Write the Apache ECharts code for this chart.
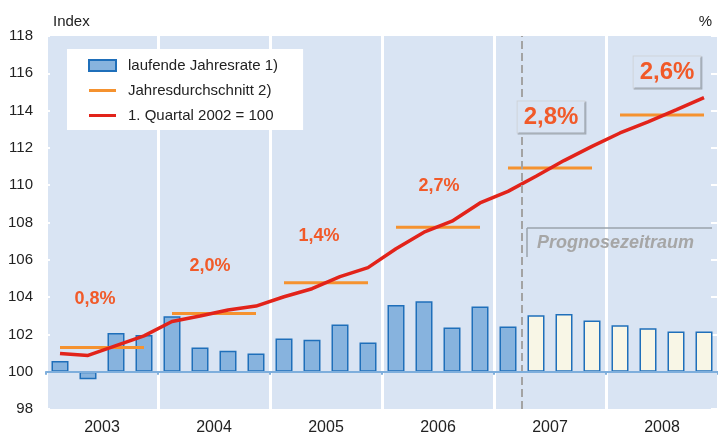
<!DOCTYPE html>
<html>
<head>
<meta charset="utf-8">
<script src="https://cdn.jsdelivr.net/npm/echarts@6/dist/echarts.min.js"></script>
<style>
  html, body { margin: 0; padding: 0; background: #fff; }
  #chart { width: 718px; height: 436px; }
</style>
</head>
<body>
<div id="chart"></div>
<script>
// Jahre und Quartale
const years = ['2003', '2004', '2005', '2006', '2007', '2008']
const quarters = years.flatMap(y => ['Q1', 'Q2', 'Q3', 'Q4'].map(q => y + ' ' + q))

// laufende Jahresrate in % (Balken, rechte Achse)
const rateValues = [
  0.58, -0.40, 2.08, 1.97,
  2.97, 1.30, 1.12, 0.98,
  1.78, 1.71, 2.53, 1.57,
  3.58, 3.78, 2.37, 3.49,
  2.42, 3.03, 3.10, 2.74,
  2.49, 2.33, 2.15, 2.15
]

// Index, 1. Quartal 2002 = 100
const indexValues = [
  100.98, 100.87, 101.40, 101.92,
  102.69, 102.99, 103.31, 103.52,
  104.02, 104.45, 105.10, 105.58,
  106.59, 107.48, 108.07, 109.05,
  109.67, 110.48, 111.32, 112.08,
  112.80, 113.40, 114.04, 114.70
]

// Jahresdurchschnitt (Index) und Veraenderung in %
const annualAvg = [101.30, 103.12, 104.77, 107.75, 110.92, 113.77]
const annualPct = ['0,8%', '2,0%', '1,4%', '2,7%', '2,8%', '2,6%']

// erstes Prognosequartal (2007 Q2)
const forecastStart = 17

const yTicks = { min: 98, max: 118, interval: 2 }

// Lage der Prozent-Beschriftungen relativ zur Jahreslinie (px)
const pctLabelShift = [[-7, -48], [-4, -47], [-7, -47], [1, -41], [1, -51], [5, -43]]

const FONT = '"Liberation Sans", Arial, sans-serif'
const PLOT_BG = '#d9e4f3'
const PCT_COLOR = '#f15a29'
// Legenden-Symbol: duenner Strich, mittig in 27x11
const LINE_ICON = 'path://M0,0 L0.01,0 L0.01,0.01 Z M0,4 L27,4 L27,7 L0,7 Z M0,11 L0.01,11 L0.01,10.99 Z'

const chart = echarts.init(document.getElementById('chart'))

// orange Jahreslinien: je Jahr eine Serie
const avgSeries = years.map((y, i) => ({
  name: 'Jahresdurchschnitt 2)',
  type: 'line',
  xAxisIndex: 0,
  yAxisIndex: 0,
  symbol: 'none',
  silent: true,
  z: 3,
  lineStyle: { color: '#f5922f', width: 3 },
  itemStyle: { color: '#f5922f' },
  data: quarters.map((q, k) => (Math.floor(k / 4) === i ? annualAvg[i] : '-'))
}))

const option = {
  animation: false,
  textStyle: { fontFamily: FONT },
  grid: {
    left: 46, top: 36, bottom: 25, right: -4,
    show: true, backgroundColor: PLOT_BG, borderWidth: 0
  },
  legend: {
    orient: 'vertical',
    left: 67,
    top: 49,
    backgroundColor: '#fff',
    padding: [9, 25, 7, 21],
    itemWidth: 27,
    itemHeight: 11,
    itemGap: 10,
    textStyle: { fontSize: 15, color: '#222', fontFamily: FONT, padding: [0, 0, 0, 7] },
    data: [
      { name: 'laufende Jahresrate 1)', icon: 'rect' },
      { name: 'Jahresdurchschnitt 2)', icon: LINE_ICON },
      { name: '1. Quartal 2002 = 100', icon: LINE_ICON }
    ]
  },
  xAxis: [
    {
      // Quartale, Nulllinie der Balken
      type: 'category',
      data: quarters,
      boundaryGap: true,
      axisLine: { show: true, onZero: true, onZeroAxisIndex: 1, lineStyle: { color: '#7eaedc', width: 2 } },
      axisTick: { show: true, interval: (i) => i % 4 === 0, length: 3, lineStyle: { color: '#7eaedc', width: 2 } },
      axisLabel: { show: false },
      splitLine: { show: false },
      z: 5
    },
    {
      // Jahre unten
      type: 'category',
      data: years,
      position: 'bottom',
      boundaryGap: true,
      axisLine: { show: false, onZero: false },
      axisTick: { show: false },
      axisLabel: { fontSize: 16, color: '#222', margin: 11, fontFamily: FONT },
      splitLine: { show: true, lineStyle: { color: '#fff', width: 3 } }
    },
    {
      // Hilfsachse in Quartalsgrenzen
      type: 'value',
      min: 0,
      max: quarters.length,
      show: false
    }
  ],
  yAxis: [
    {
      type: 'value',
      min: yTicks.min, max: yTicks.max, interval: yTicks.interval,
      name: 'Index',
      nameLocation: 'end',
      nameGap: 14,
      nameTextStyle: { align: 'left', verticalAlign: 'middle', color: '#222', fontSize: 15, padding: [0, 0, 0, 7], fontFamily: FONT },
      axisLine: { show: false },
      axisTick: { show: true, inside: true, length: 4, lineStyle: { color: '#fff', width: 2 } },
      axisLabel: { fontSize: 15, color: '#222', margin: 13, fontFamily: FONT },
      splitLine: { show: false }
    },
    {
      type: 'value',
      position: 'right',
      min: yTicks.min - 100, max: yTicks.max - 100, interval: yTicks.interval,
      name: '%',
      nameLocation: 'end',
      nameGap: 14,
      nameTextStyle: { align: 'right', verticalAlign: 'middle', color: '#222', fontSize: 15, padding: [0, 6, 0, 0], fontFamily: FONT },
      axisLine: { show: false },
      axisTick: { show: true, inside: true, length: 7, lineStyle: { color: '#fff', width: 2 } },
      axisLabel: { show: false },
      splitLine: { show: false }
    }
  ],
  series: [
    {
      name: 'laufende Jahresrate 1)',
      type: 'bar',
      xAxisIndex: 0,
      yAxisIndex: 1,
      barWidth: 17,
      z: 2,
      itemStyle: { color: '#87b3de', borderColor: '#1f6fba', borderWidth: 1.5 },
      data: rateValues.map((v, k) => (k >= forecastStart
        ? { value: v, itemStyle: { color: '#f8f6e6', borderColor: '#1f6fba' } }
        : v))
    },
    ...avgSeries,
    {
      name: '1. Quartal 2002 = 100',
      type: 'line',
      xAxisIndex: 0,
      yAxisIndex: 0,
      symbol: 'none',
      z: 4,
      lineStyle: { color: '#e2231a', width: 3.5 },
      itemStyle: { color: '#e2231a' },
      data: indexValues
    },
    {
      // Prozentangaben je Jahr + Prognosegrenze
      name: 'pct',
      type: 'scatter',
      xAxisIndex: 2,
      yAxisIndex: 0,
      symbolSize: 1,
      silent: true,
      z: 6,
      itemStyle: { color: 'rgba(0,0,0,0)', opacity: 1 },
      label: {
        show: true,
        position: 'inside',
        formatter: (p) => annualPct[p.dataIndex],
        color: PCT_COLOR,
        fontSize: 18,
        fontWeight: 'bold',
        fontFamily: FONT
      },
      data: annualAvg.map((v, i) => {
        const item = { value: [i * 4 + 2, v], label: { offset: pctLabelShift[i] } }
        if (i * 4 >= forecastStart - 1) {
          Object.assign(item.label, {
            fontSize: 24,
            backgroundColor: PLOT_BG,
            borderColor: '#cfd4da',
            borderWidth: 1,
            padding: [4, 6, 3, 6],
            shadowColor: 'rgba(150,158,168,0.9)',
            shadowOffsetX: 1,
            shadowOffsetY: 1
          })
        }
        return item
      }),
      markLine: {
        silent: true,
        symbol: 'none',
        label: { show: false },
        lineStyle: { color: '#a3a3a3', width: 2, type: [8, 4], opacity: 1 },
        data: [{ xAxis: forecastStart }]
      }
    }
  ]
}

chart.setOption(option)

// Kasten "Prognosezeitraum" an der Prognosegrenze
const p = chart.convertToPixel({ xAxisIndex: 2, yAxisIndex: 0 }, [forecastStart, 107.73])
const bx = Math.round(p[0]) + 5
const by = Math.round(p[1])
chart.setOption({
  graphic: [
    {
      type: 'line',
      silent: true,
      z: 10,
      shape: { x1: bx, y1: by, x2: bx, y2: by + 29 },
      style: { stroke: '#9aa3ab', lineWidth: 1.5 }
    },
    {
      type: 'line',
      silent: true,
      z: 10,
      shape: { x1: bx, y1: by, x2: 712, y2: by },
      style: { stroke: '#9aa3ab', lineWidth: 1.5 }
    },
    {
      type: 'text',
      silent: true,
      z: 10,
      x: bx + 10,
      y: by + 15,
      style: {
        text: 'Prognosezeitraum',
        fill: '#a6a6a6',
        font: 'italic bold 18px ' + FONT,
        verticalAlign: 'middle'
      }
    }
  ]
})
</script>
</body>
</html>
